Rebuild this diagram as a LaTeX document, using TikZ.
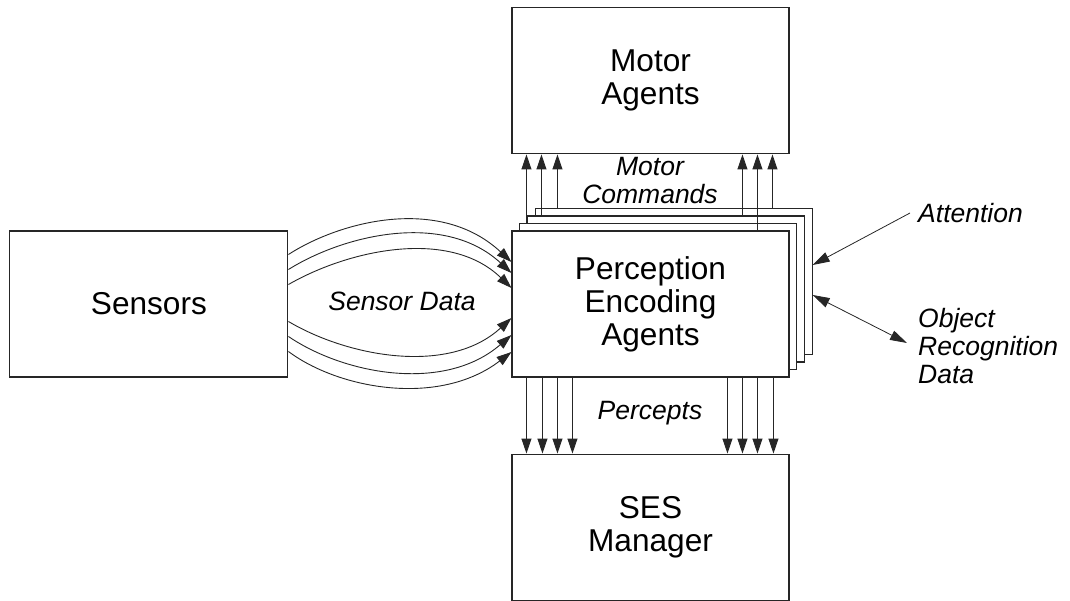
\documentclass[tikz,border=0pt]{standalone}
\usepackage{fontspec}
\setmainfont{Liberation Sans}
\usetikzlibrary{arrows.meta,calc,positioning}

\tikzset{
  agentbox/.style={draw=black!85, line width=1.1pt, fill=white,
    minimum width=277pt, minimum height=146pt, inner sep=0pt,
    align=center, font=\fontsize{31.6}{33}\selectfont},
  flowlabel/.style={inner sep=0pt, font=\fontsize{26.5}{28}\selectfont\itshape},
  flow/.style={draw=black!85, line width=0.9pt, -{Triangle[length=15pt,width=10pt]}},
  cue/.style={draw=black!85, line width=0.8pt, {Triangle[length=17pt,width=10pt]}-},
}

\begin{document}
\begin{tikzpicture}[x=1pt,y=-1pt]
  \useasboundingbox (0,0) rectangle (1070,601);

  % stacked perception agents, back to front
  \foreach \k in {3,2,1}
    \node [agentbox] (pea\k) at ({650.5+7.7*\k},{304-7.5*\k}) {};
  \node [agentbox] (pea) at (650.5,304) {Perception\\Encoding\\Agents};

  \node [agentbox, above=76pt of pea] (motor) {Motor\\Agents};
  \node [agentbox, below=76pt of pea] (ses) {SES\\Manager};
  \node [agentbox, left=223pt of pea, minimum width=278pt] (sensors) {Sensors};

  \node [flowlabel, align=center] (cmds) at (650,181) {Motor\\Commands};
  \node [flowlabel] (percepts) at (650,413) {Percepts};
  \node [flowlabel] (sdata) at (402,301) {Sensor Data};
  \node [flowlabel, anchor=west] (attn) at (918,213) {Attention};
  \node [flowlabel, anchor=west, align=left] (ord) at (918,346) {Object\\Recognition\\Data};

  % motor commands
  \foreach \src/\dx in {pea1/15, pea2/30, pea3/46, pea2/231, pea/246, pea3/261}
    \draw [flow] ($(motor.south west |- \src.north)+(\dx,0)$) -- ($(motor.south west)+(\dx,0)$);

  % percepts
  \foreach \dx in {15,31,46,61,216,231,246,262}
    \draw [flow] ($(pea.south west)+(\dx,0)$) -- ($(ses.north west)+(\dx,0)$);

  % sensor data
  \foreach \a/\b/\u/\v/\p/\q in {-49.5/-42/51/-33/-72/-67, -34.5/-31/56/-35/-67/-62,
      -19.5/-16/61/-35/-62/-60, 17.5/14/61/36/-62/57, 32.5/31/56/38/-67/58, 47.5/48/51/38/-72/55}
    \draw [flow] ($(sensors.east)+(0,\a)$) .. controls +(\u,\v) and +(\p,\q) .. ($(pea.west)+(0,\b)$);

  \draw [cue] ($(pea3.east)+(0,-16.5)$) -- ([xshift=-8pt]attn.west);
  \draw [cue, {Triangle[length=17pt,width=10pt]}-{Triangle[length=17pt,width=10pt]}] ($(pea3.east)+(0,13.5)$) -- ([xshift=-11pt,yshift=3pt]ord.west);
\end{tikzpicture}
\end{document}
